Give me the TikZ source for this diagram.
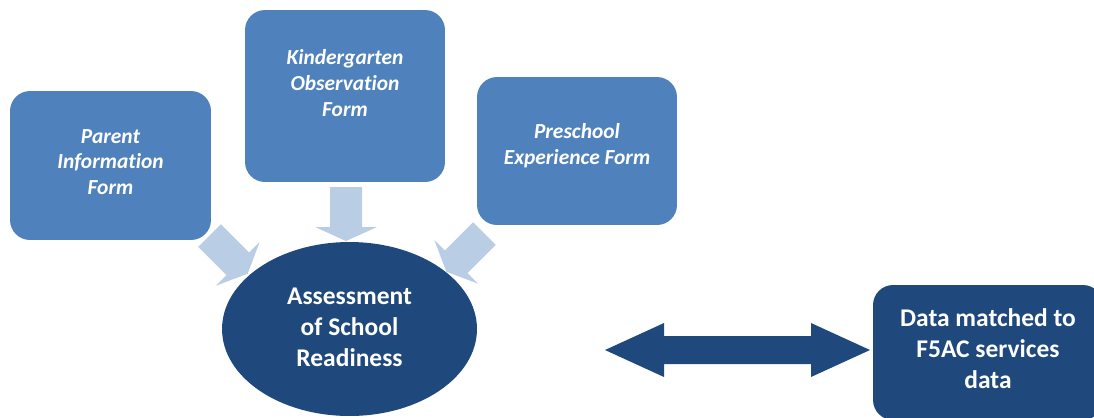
\documentclass[tikz,border=0pt]{standalone}
\usepackage{fontspec}
\setmainfont{Carlito}[Ligatures={NoCommon}]
\usetikzlibrary{shapes.geometric}
\definecolor{boxblue}{HTML}{4F81BD}
\definecolor{darkblue}{HTML}{1F497D}
\definecolor{lightblue}{HTML}{B9CDE5}
\begin{document}
\begin{tikzpicture}[x=0.02cm,y=-0.02cm,
  formbox/.style={rectangle, rounded corners=0.4cm, fill=boxblue, draw=none, inner sep=0pt},
  formtext/.style={text=white, align=center, font=\fontsize{12.2}{14.7}\selectfont\bfseries\itshape},
  bigtext/.style={text=white, align=center, font=\fontsize{14.5}{17.7}\selectfont\bfseries},
  blockarrow/.style={fill=lightblue, draw=none}]
\useasboundingbox (0,0) rectangle (1094,417);
\clip (0,0) rectangle (1094,417);
% light block arrows
\begin{scope}[shift={(209.5,235.5)}, rotate=-45]
  \fill[blockarrow] (0,-16) -- (40,-16) -- (40,-31) -- (54,0) -- (40,31) -- (40,16) -- (0,16) -- cycle;
\end{scope}
\begin{scope}[shift={(346,187)}, rotate=-90]
  \fill[blockarrow] (0,-16) -- (40,-16) -- (40,-31) -- (54,0) -- (40,31) -- (40,16) -- (0,16) -- cycle;
\end{scope}
\begin{scope}[shift={(484.5,233.5)}, rotate=-135]
  \fill[blockarrow] (0,-16) -- (40,-16) -- (40,-31) -- (54,0) -- (40,31) -- (40,16) -- (0,16) -- cycle;
\end{scope}
% boxes
\node[formbox, minimum width=4.02cm, minimum height=2.98cm] (parent) at (110.5,165.5) {};
\node[formtext] (parentt) at (110.5,162) {Parent\\Information\\Form};
\node[formbox, minimum width=4.0cm, minimum height=3.44cm] (kinder) at (345,96) {};
\node[formtext] (kindert) at (345,83) {Kindergarten\\Observation\\Form};
\node[formbox, minimum width=4.0cm, minimum height=2.96cm] (pre) at (577,151) {};
\node[formtext] (pret) at (577,146) {Preschool\\Experience Form};
% ellipse
\node[ellipse, fill=darkblue, minimum width=5.1cm, minimum height=3.48cm, inner sep=0pt] (asr) at (349.5,329) {};
\node[bigtext] (asrt) at (349.5,327) {Assessment\\of School\\Readiness};
% right box
\node[rectangle, rounded corners=0.4cm, fill=darkblue, minimum width=4.6cm, minimum height=2.7cm, inner sep=0pt] (data) at (988,352.5) {};
\node[bigtext] (datat) at (988,349) {Data matched to\\F5AC services\\data};
% double arrow
\fill[darkblue] (605,350) -- (664,323) -- (664,336) -- (811,336) -- (811,323) -- (870,350) -- (811,377) -- (811,364) -- (664,364) -- (664,377) -- cycle;
\end{tikzpicture}
\end{document}
